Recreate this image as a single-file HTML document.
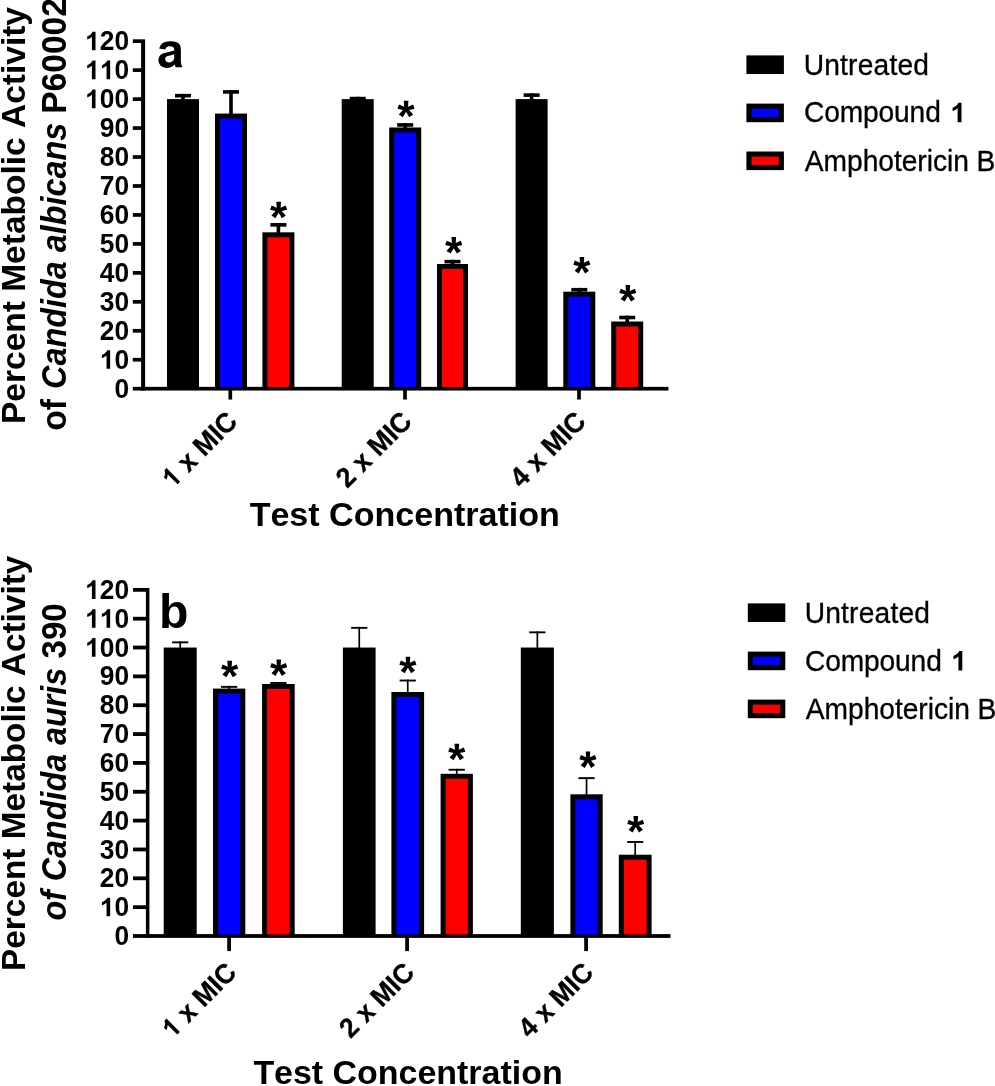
<!DOCTYPE html>
<html><head><meta charset="utf-8"><title>Figure</title>
<style>
html,body{margin:0;padding:0;background:#fff;}
body{width:995px;height:1086px;overflow:hidden;font-family:"Liberation Sans",sans-serif;}
svg{display:block;will-change:transform;}
text,path{fill:#000;}
text{font-kerning:none;}
</style></head><body>
<svg width="995" height="1086" viewBox="0 0 995 1086">
<rect width="995" height="1086" fill="#fff"/>
<rect x="141.10" y="39.33" width="4.00" height="351.22" fill="#000" />
<rect x="141.10" y="386.85" width="527.30" height="3.70" fill="#000" />
<rect x="132.80" y="386.85" width="8.80" height="3.70" fill="#000" />
<text x="114.45" y="0" transform="translate(0,397.80) scale(1,1.02)" font-family="Liberation Sans, sans-serif" font-weight="bold" font-size="26.34">0</text>
<rect x="132.80" y="357.89" width="8.80" height="3.70" fill="#000" />
<path transform="translate(99.80,368.84) scale(0.01286,-0.01265)" d="M806 0H525V1059Q371 915 162 846V1101Q272 1137 401 1237.5T578 1472H806Z"/>
<text x="114.45" y="0" transform="translate(0,368.84) scale(1,1.02)" font-family="Liberation Sans, sans-serif" font-weight="bold" font-size="26.34">0</text>
<rect x="132.80" y="328.93" width="8.80" height="3.70" fill="#000" />
<text x="99.80 114.45" y="0" transform="translate(0,339.88) scale(1,1.02)" font-family="Liberation Sans, sans-serif" font-weight="bold" font-size="26.34">20</text>
<rect x="132.80" y="299.97" width="8.80" height="3.70" fill="#000" />
<text x="99.80 114.45" y="0" transform="translate(0,310.92) scale(1,1.02)" font-family="Liberation Sans, sans-serif" font-weight="bold" font-size="26.34">30</text>
<rect x="132.80" y="271.01" width="8.80" height="3.70" fill="#000" />
<text x="99.80 114.45" y="0" transform="translate(0,281.96) scale(1,1.02)" font-family="Liberation Sans, sans-serif" font-weight="bold" font-size="26.34">40</text>
<rect x="132.80" y="242.05" width="8.80" height="3.70" fill="#000" />
<text x="99.80 114.45" y="0" transform="translate(0,253.00) scale(1,1.02)" font-family="Liberation Sans, sans-serif" font-weight="bold" font-size="26.34">50</text>
<rect x="132.80" y="213.09" width="8.80" height="3.70" fill="#000" />
<text x="99.80 114.45" y="0" transform="translate(0,224.04) scale(1,1.02)" font-family="Liberation Sans, sans-serif" font-weight="bold" font-size="26.34">60</text>
<rect x="132.80" y="184.13" width="8.80" height="3.70" fill="#000" />
<text x="99.80 114.45" y="0" transform="translate(0,195.08) scale(1,1.02)" font-family="Liberation Sans, sans-serif" font-weight="bold" font-size="26.34">70</text>
<rect x="132.80" y="155.17" width="8.80" height="3.70" fill="#000" />
<text x="99.80 114.45" y="0" transform="translate(0,166.12) scale(1,1.02)" font-family="Liberation Sans, sans-serif" font-weight="bold" font-size="26.34">80</text>
<rect x="132.80" y="126.21" width="8.80" height="3.70" fill="#000" />
<text x="99.80 114.45" y="0" transform="translate(0,137.16) scale(1,1.02)" font-family="Liberation Sans, sans-serif" font-weight="bold" font-size="26.34">90</text>
<rect x="132.80" y="97.25" width="8.80" height="3.70" fill="#000" />
<path transform="translate(85.15,108.20) scale(0.01286,-0.01265)" d="M806 0H525V1059Q371 915 162 846V1101Q272 1137 401 1237.5T578 1472H806Z"/>
<text x="99.80 114.45" y="0" transform="translate(0,108.20) scale(1,1.02)" font-family="Liberation Sans, sans-serif" font-weight="bold" font-size="26.34">00</text>
<rect x="132.80" y="68.29" width="8.80" height="3.70" fill="#000" />
<path transform="translate(85.15,79.24) scale(0.01286,-0.01265)" d="M806 0H525V1059Q371 915 162 846V1101Q272 1137 401 1237.5T578 1472H806Z"/>
<path transform="translate(99.80,79.24) scale(0.01286,-0.01265)" d="M806 0H525V1059Q371 915 162 846V1101Q272 1137 401 1237.5T578 1472H806Z"/>
<text x="114.45" y="0" transform="translate(0,79.24) scale(1,1.02)" font-family="Liberation Sans, sans-serif" font-weight="bold" font-size="26.34">0</text>
<rect x="132.80" y="39.33" width="8.80" height="3.70" fill="#000" />
<path transform="translate(85.15,50.28) scale(0.01286,-0.01265)" d="M806 0H525V1059Q371 915 162 846V1101Q272 1137 401 1237.5T578 1472H806Z"/>
<text x="99.80 114.45" y="0" transform="translate(0,50.28) scale(1,1.02)" font-family="Liberation Sans, sans-serif" font-weight="bold" font-size="26.34">20</text>
<rect x="181.20" y="93.89" width="3.60" height="6.21" fill="#000" />
<rect x="175.00" y="93.89" width="16.00" height="3.60" fill="#000" />
<rect x="167.00" y="99.10" width="32.00" height="289.60" fill="#000" />
<rect x="229.20" y="90.12" width="3.60" height="24.46" fill="#000" />
<rect x="223.00" y="90.12" width="16.00" height="3.60" fill="#000" />
<rect x="215.00" y="113.58" width="32.00" height="275.12" fill="#000" />
<rect x="220.00" y="118.58" width="22.00" height="268.57" fill="#0000ff" />
<rect x="276.60" y="223.05" width="3.60" height="10.27" fill="#000" />
<rect x="270.40" y="223.05" width="16.00" height="3.60" fill="#000" />
<rect x="262.40" y="232.32" width="32.00" height="156.38" fill="#000" />
<rect x="267.40" y="237.32" width="22.00" height="149.83" fill="#ff0000" />
<rect x="355.90" y="96.78" width="3.60" height="3.32" fill="#000" />
<rect x="349.70" y="96.78" width="16.00" height="3.60" fill="#000" />
<rect x="341.70" y="99.10" width="32.00" height="289.60" fill="#000" />
<rect x="403.40" y="123.14" width="3.60" height="5.34" fill="#000" />
<rect x="397.20" y="123.14" width="16.00" height="3.60" fill="#000" />
<rect x="389.20" y="127.48" width="32.00" height="261.22" fill="#000" />
<rect x="394.20" y="132.48" width="22.00" height="254.67" fill="#0000ff" />
<rect x="450.70" y="259.83" width="3.60" height="5.17" fill="#000" />
<rect x="444.50" y="259.83" width="16.00" height="3.60" fill="#000" />
<rect x="437.00" y="264.00" width="31.00" height="124.70" fill="#000" />
<rect x="442.00" y="269.00" width="21.00" height="118.15" fill="#ff0000" />
<rect x="529.80" y="93.31" width="3.60" height="6.79" fill="#000" />
<rect x="523.60" y="93.31" width="16.00" height="3.60" fill="#000" />
<rect x="515.60" y="99.10" width="32.00" height="289.60" fill="#000" />
<rect x="577.50" y="287.92" width="3.60" height="4.76" fill="#000" />
<rect x="571.30" y="287.92" width="16.00" height="3.60" fill="#000" />
<rect x="563.30" y="291.68" width="32.00" height="97.02" fill="#000" />
<rect x="568.30" y="296.68" width="22.00" height="90.47" fill="#0000ff" />
<rect x="625.40" y="315.72" width="3.60" height="6.79" fill="#000" />
<rect x="619.20" y="315.72" width="16.00" height="3.60" fill="#000" />
<rect x="611.20" y="321.51" width="32.00" height="67.19" fill="#000" />
<rect x="616.20" y="326.51" width="22.00" height="60.64" fill="#ff0000" />
<rect x="228.45" y="388.70" width="3.70" height="10.85" fill="#000" />
<g transform="translate(238.80,423.00) rotate(-45) scale(1,1.04)" stroke="#000" stroke-width="0.3"><path transform="translate(-93.48,0.00) scale(0.01304,-0.01254)" d="M806 0H525V1059Q371 915 162 846V1101Q272 1137 401 1237.5T578 1472H806Z"/><text x="0" y="0" text-anchor="end" font-family="Liberation Sans, sans-serif" font-weight="bold" font-size="26.7" xml:space="preserve"> x MIC</text></g>
<rect x="403.15" y="388.70" width="3.70" height="10.85" fill="#000" />
<g transform="translate(413.30,423.00) rotate(-45) scale(1,1.04)" stroke="#000" stroke-width="0.3"><text x="0" y="0" text-anchor="end" font-family="Liberation Sans, sans-serif" font-weight="bold" font-size="26.7" xml:space="preserve">2 x MIC</text></g>
<rect x="577.15" y="388.70" width="3.70" height="10.85" fill="#000" />
<g transform="translate(587.30,423.00) rotate(-45) scale(1,1.04)" stroke="#000" stroke-width="0.3"><text x="0" y="0" text-anchor="end" font-family="Liberation Sans, sans-serif" font-weight="bold" font-size="26.7" xml:space="preserve">4 x MIC</text></g>
<path transform="translate(269.99,232.28) scale(0.02163,-0.02163)" d="M492 1135 727 1239 795 1042 545 981 731 768 547 647 401 899 252 647 66 770 256 981 6 1042 74 1239 313 1135 295 1409H510Z"/>
<path transform="translate(397.39,131.18) scale(0.02163,-0.02163)" d="M492 1135 727 1239 795 1042 545 981 731 768 547 647 401 899 252 647 66 770 256 981 6 1042 74 1239 313 1135 295 1409H510Z"/>
<path transform="translate(445.09,267.58) scale(0.02163,-0.02163)" d="M492 1135 727 1239 795 1042 545 981 731 768 547 647 401 899 252 647 66 770 256 981 6 1042 74 1239 313 1135 295 1409H510Z"/>
<path transform="translate(573.19,287.38) scale(0.02163,-0.02163)" d="M492 1135 727 1239 795 1042 545 981 731 768 547 647 401 899 252 647 66 770 256 981 6 1042 74 1239 313 1135 295 1409H510Z"/>
<path transform="translate(619.14,315.58) scale(0.02163,-0.02163)" d="M492 1135 727 1239 795 1042 545 981 731 768 547 647 401 899 252 647 66 770 256 981 6 1042 74 1239 313 1135 295 1409H510Z"/>
<text x="404.75" y="526.40" text-anchor="middle" font-family="Liberation Sans, sans-serif" font-weight="bold" font-size="34.05">Test Concentration</text>
<text transform="translate(24.80,215.50) rotate(-90)" text-anchor="middle" font-family="Liberation Sans, sans-serif" font-weight="bold" font-size="33.51">Percent Metabolic Activity</text>
<g transform="translate(65.90,0) rotate(-90)" font-family="Liberation Sans, sans-serif">
<text x="-430.82" y="0" transform="scale(1,1.04)" font-weight="bold" font-size="33.8">of</text>
<text x="-388.98" y="0" transform="scale(1,1.1)" font-style="italic" font-weight="bold" font-size="32.38">Candida albicans</text>
<text x="-113.85" y="0" transform="scale(1,1.04)" font-weight="bold" font-size="33.6">P60002</text>
</g>
<path transform="translate(156.60,67.30) scale(0.02407,-0.02407)" d="M358 738L103 784Q146 938 251 1012Q356 1086 563 1086Q751 1086 843 1041.5Q935 997 972.5 928.5Q1010 860 1010 677L1007 349Q1007 209 1020.5 142.5Q1034 76 1071 0H793Q782 28 766 83Q759 108 756 116Q684 46 602 11Q520 -24 427 -24Q263 -24 168.5 65Q74 154 74 290Q74 380 117 450.5Q160 521 237.5 558.5Q315 596 461 624Q658 661 734 693V721Q734 802 694 836.5Q654 871 543 871Q468 871 426 841.5Q384 812 358 738ZM734 537Q680 519 563 494Q446 469 410 445Q355 406 355 346Q355 287 399 244Q443 201 511 201Q587 201 656 251Q707 289 723 344Q734 380 734 481Z"/>
<rect x="746.40" y="55.40" width="37.50" height="18.60" fill="#000" />
<text x="803.70" y="0" transform="translate(0,74.90) scale(1,1.035)" font-family="Liberation Sans, sans-serif" font-size="28.2" letter-spacing="0.18" stroke="#000" stroke-width="0.3">Untreated</text>
<rect x="746.40" y="103.60" width="37.50" height="18.60" fill="#000" />
<rect x="751.50" y="108.70" width="27.30" height="8.40" fill="#0000ff" />
<text x="804.10" y="0" transform="translate(0,122.30) scale(1,1.035)" font-family="Liberation Sans, sans-serif" font-size="28.2" letter-spacing="-0.17" stroke="#000" stroke-width="0.3">Compound</text>
<path transform="translate(950.40,122.30) scale(0.01377,-0.01327)" d="M806 0H525V1059Q371 915 162 846V1101Q272 1137 401 1237.5T578 1472H806Z"/>
<rect x="746.40" y="151.50" width="37.50" height="18.60" fill="#000" />
<rect x="751.50" y="156.60" width="27.30" height="8.40" fill="#ff0000" />
<text x="804.80" y="0" transform="translate(0,170.70) scale(1,1.035)" font-family="Liberation Sans, sans-serif" font-size="28.2" letter-spacing="-0.04" stroke="#000" stroke-width="0.3">Amphotericin B</text>
<rect x="145.90" y="587.95" width="3.50" height="349.95" fill="#000" />
<rect x="145.90" y="934.10" width="524.60" height="3.80" fill="#000" />
<rect x="133.00" y="934.10" width="13.40" height="3.80" fill="#000" />
<text x="114.45" y="0" transform="translate(0,945.10) scale(1,1.02)" font-family="Liberation Sans, sans-serif" font-weight="bold" font-size="26.34">0</text>
<rect x="133.00" y="905.25" width="13.40" height="3.80" fill="#000" />
<path transform="translate(99.80,916.25) scale(0.01286,-0.01265)" d="M806 0H525V1059Q371 915 162 846V1101Q272 1137 401 1237.5T578 1472H806Z"/>
<text x="114.45" y="0" transform="translate(0,916.25) scale(1,1.02)" font-family="Liberation Sans, sans-serif" font-weight="bold" font-size="26.34">0</text>
<rect x="133.00" y="876.41" width="13.40" height="3.80" fill="#000" />
<text x="99.80 114.45" y="0" transform="translate(0,887.41) scale(1,1.02)" font-family="Liberation Sans, sans-serif" font-weight="bold" font-size="26.34">20</text>
<rect x="133.00" y="847.56" width="13.40" height="3.80" fill="#000" />
<text x="99.80 114.45" y="0" transform="translate(0,858.56) scale(1,1.02)" font-family="Liberation Sans, sans-serif" font-weight="bold" font-size="26.34">30</text>
<rect x="133.00" y="818.72" width="13.40" height="3.80" fill="#000" />
<text x="99.80 114.45" y="0" transform="translate(0,829.72) scale(1,1.02)" font-family="Liberation Sans, sans-serif" font-weight="bold" font-size="26.34">40</text>
<rect x="133.00" y="789.87" width="13.40" height="3.80" fill="#000" />
<text x="99.80 114.45" y="0" transform="translate(0,800.87) scale(1,1.02)" font-family="Liberation Sans, sans-serif" font-weight="bold" font-size="26.34">50</text>
<rect x="133.00" y="761.02" width="13.40" height="3.80" fill="#000" />
<text x="99.80 114.45" y="0" transform="translate(0,772.02) scale(1,1.02)" font-family="Liberation Sans, sans-serif" font-weight="bold" font-size="26.34">60</text>
<rect x="133.00" y="732.18" width="13.40" height="3.80" fill="#000" />
<text x="99.80 114.45" y="0" transform="translate(0,743.18) scale(1,1.02)" font-family="Liberation Sans, sans-serif" font-weight="bold" font-size="26.34">70</text>
<rect x="133.00" y="703.33" width="13.40" height="3.80" fill="#000" />
<text x="99.80 114.45" y="0" transform="translate(0,714.33) scale(1,1.02)" font-family="Liberation Sans, sans-serif" font-weight="bold" font-size="26.34">80</text>
<rect x="133.00" y="674.49" width="13.40" height="3.80" fill="#000" />
<text x="99.80 114.45" y="0" transform="translate(0,685.49) scale(1,1.02)" font-family="Liberation Sans, sans-serif" font-weight="bold" font-size="26.34">90</text>
<rect x="133.00" y="645.64" width="13.40" height="3.80" fill="#000" />
<path transform="translate(85.15,656.64) scale(0.01286,-0.01265)" d="M806 0H525V1059Q371 915 162 846V1101Q272 1137 401 1237.5T578 1472H806Z"/>
<text x="99.80 114.45" y="0" transform="translate(0,656.64) scale(1,1.02)" font-family="Liberation Sans, sans-serif" font-weight="bold" font-size="26.34">00</text>
<rect x="133.00" y="616.79" width="13.40" height="3.80" fill="#000" />
<path transform="translate(85.15,627.79) scale(0.01286,-0.01265)" d="M806 0H525V1059Q371 915 162 846V1101Q272 1137 401 1237.5T578 1472H806Z"/>
<path transform="translate(99.80,627.79) scale(0.01286,-0.01265)" d="M806 0H525V1059Q371 915 162 846V1101Q272 1137 401 1237.5T578 1472H806Z"/>
<text x="114.45" y="0" transform="translate(0,627.79) scale(1,1.02)" font-family="Liberation Sans, sans-serif" font-weight="bold" font-size="26.34">0</text>
<rect x="133.00" y="587.95" width="13.40" height="3.80" fill="#000" />
<path transform="translate(85.15,598.95) scale(0.01286,-0.01265)" d="M806 0H525V1059Q371 915 162 846V1101Q272 1137 401 1237.5T578 1472H806Z"/>
<text x="99.80 114.45" y="0" transform="translate(0,598.95) scale(1,1.02)" font-family="Liberation Sans, sans-serif" font-weight="bold" font-size="26.34">20</text>
<rect x="179.35" y="641.40" width="1.70" height="7.14" fill="#000" />
<rect x="172.10" y="641.40" width="16.20" height="1.90" fill="#000" />
<rect x="163.70" y="647.54" width="33.00" height="288.46" fill="#000" />
<rect x="228.30" y="685.91" width="1.70" height="3.68" fill="#000" />
<rect x="221.05" y="685.91" width="16.20" height="1.90" fill="#000" />
<rect x="213.00" y="688.59" width="32.30" height="247.41" fill="#000" />
<rect x="218.00" y="693.59" width="22.30" height="240.81" fill="#0000ff" />
<rect x="277.55" y="682.01" width="1.70" height="2.99" fill="#000" />
<rect x="270.30" y="682.01" width="16.20" height="1.90" fill="#000" />
<rect x="262.10" y="684.00" width="32.60" height="252.00" fill="#000" />
<rect x="267.10" y="689.00" width="22.60" height="245.40" fill="#ff0000" />
<rect x="358.40" y="626.89" width="1.70" height="21.65" fill="#000" />
<rect x="351.15" y="626.89" width="16.20" height="1.90" fill="#000" />
<rect x="342.90" y="647.54" width="32.70" height="288.46" fill="#000" />
<rect x="406.90" y="679.59" width="1.70" height="13.40" fill="#000" />
<rect x="399.65" y="679.59" width="16.20" height="1.90" fill="#000" />
<rect x="391.40" y="691.99" width="32.70" height="244.01" fill="#000" />
<rect x="396.40" y="696.99" width="22.70" height="237.41" fill="#0000ff" />
<rect x="455.90" y="768.81" width="1.70" height="5.99" fill="#000" />
<rect x="448.65" y="768.81" width="16.20" height="1.90" fill="#000" />
<rect x="440.60" y="773.80" width="32.30" height="162.20" fill="#000" />
<rect x="445.60" y="778.80" width="22.30" height="155.60" fill="#ff0000" />
<rect x="536.50" y="631.39" width="1.70" height="17.15" fill="#000" />
<rect x="529.25" y="631.39" width="16.20" height="1.90" fill="#000" />
<rect x="520.80" y="647.54" width="33.10" height="288.46" fill="#000" />
<rect x="585.70" y="777.20" width="1.70" height="18.11" fill="#000" />
<rect x="578.45" y="777.20" width="16.20" height="1.90" fill="#000" />
<rect x="570.40" y="794.31" width="32.30" height="141.69" fill="#000" />
<rect x="575.40" y="799.31" width="22.30" height="135.09" fill="#0000ff" />
<rect x="634.35" y="841.01" width="1.70" height="14.70" fill="#000" />
<rect x="627.10" y="841.01" width="16.20" height="1.90" fill="#000" />
<rect x="618.80" y="854.71" width="32.80" height="81.29" fill="#000" />
<rect x="623.80" y="859.71" width="22.80" height="74.69" fill="#ff0000" />
<rect x="227.20" y="936.00" width="3.80" height="15.10" fill="#000" />
<g transform="translate(237.90,974.00) rotate(-45) scale(1,1.04)" stroke="#000" stroke-width="0.3"><path transform="translate(-92.43,0.00) scale(0.01289,-0.01239)" d="M806 0H525V1059Q371 915 162 846V1101Q272 1137 401 1237.5T578 1472H806Z"/><text x="0" y="0" text-anchor="end" font-family="Liberation Sans, sans-serif" font-weight="bold" font-size="26.4" xml:space="preserve"> x MIC</text></g>
<rect x="405.20" y="936.00" width="3.80" height="15.10" fill="#000" />
<g transform="translate(415.90,974.00) rotate(-45) scale(1,1.04)" stroke="#000" stroke-width="0.3"><text x="0" y="0" text-anchor="end" font-family="Liberation Sans, sans-serif" font-weight="bold" font-size="26.4" xml:space="preserve">2 x MIC</text></g>
<rect x="584.20" y="936.00" width="3.80" height="15.10" fill="#000" />
<g transform="translate(594.90,974.00) rotate(-45) scale(1,1.04)" stroke="#000" stroke-width="0.3"><text x="0" y="0" text-anchor="end" font-family="Liberation Sans, sans-serif" font-weight="bold" font-size="26.4" xml:space="preserve">4 x MIC</text></g>
<path transform="translate(220.99,691.28) scale(0.02163,-0.02163)" d="M492 1135 727 1239 795 1042 545 981 731 768 547 647 401 899 252 647 66 770 256 981 6 1042 74 1239 313 1135 295 1409H510Z"/>
<path transform="translate(270.04,689.88) scale(0.02163,-0.02163)" d="M492 1135 727 1239 795 1042 545 981 731 768 547 647 401 899 252 647 66 770 256 981 6 1042 74 1239 313 1135 295 1409H510Z"/>
<path transform="translate(399.24,687.18) scale(0.02163,-0.02163)" d="M492 1135 727 1239 795 1042 545 981 731 768 547 647 401 899 252 647 66 770 256 981 6 1042 74 1239 313 1135 295 1409H510Z"/>
<path transform="translate(448.14,774.18) scale(0.02163,-0.02163)" d="M492 1135 727 1239 795 1042 545 981 731 768 547 647 401 899 252 647 66 770 256 981 6 1042 74 1239 313 1135 295 1409H510Z"/>
<path transform="translate(579.24,781.88) scale(0.02163,-0.02163)" d="M492 1135 727 1239 795 1042 545 981 731 768 547 647 401 899 252 647 66 770 256 981 6 1042 74 1239 313 1135 295 1409H510Z"/>
<path transform="translate(627.09,846.48) scale(0.02163,-0.02163)" d="M492 1135 727 1239 795 1042 545 981 731 768 547 647 401 899 252 647 66 770 256 981 6 1042 74 1239 313 1135 295 1409H510Z"/>
<text x="408.00" y="1084.40" text-anchor="middle" font-family="Liberation Sans, sans-serif" font-weight="bold" font-size="33.95">Test Concentration</text>
<text transform="translate(24.80,763.30) rotate(-90)" text-anchor="middle" font-family="Liberation Sans, sans-serif" font-weight="bold" font-size="33.36">Percent Metabolic Activity</text>
<g transform="translate(65.90,0) rotate(-90)" font-family="Liberation Sans, sans-serif">
<text x="-920.59" y="0" transform="scale(1,1.1)" font-style="italic" font-weight="bold" font-size="32.27">of Candida auris</text>
<text x="-658.46" y="0" transform="scale(1,1.04)" font-weight="bold" font-size="33.0">390</text>
</g>
<text x="0" y="0" transform="translate(159.00,628.07) scale(1.0,1)" font-family="Liberation Sans, sans-serif" font-weight="bold" font-size="48.2">b</text>
<rect x="747.80" y="603.40" width="37.50" height="18.60" fill="#000" />
<text x="804.70" y="0" transform="translate(0,623.10) scale(1,1.035)" font-family="Liberation Sans, sans-serif" font-size="28.2" letter-spacing="0.18" stroke="#000" stroke-width="0.3">Untreated</text>
<rect x="747.80" y="651.60" width="37.50" height="18.60" fill="#000" />
<rect x="752.90" y="656.70" width="27.30" height="8.40" fill="#0000ff" />
<text x="805.10" y="0" transform="translate(0,670.50) scale(1,1.035)" font-family="Liberation Sans, sans-serif" font-size="28.2" letter-spacing="-0.17" stroke="#000" stroke-width="0.3">Compound</text>
<path transform="translate(951.20,670.50) scale(0.01377,-0.01327)" d="M806 0H525V1059Q371 915 162 846V1101Q272 1137 401 1237.5T578 1472H806Z"/>
<rect x="747.80" y="699.60" width="37.50" height="18.60" fill="#000" />
<rect x="752.90" y="704.70" width="27.30" height="8.40" fill="#ff0000" />
<text x="805.80" y="0" transform="translate(0,718.90) scale(1,1.035)" font-family="Liberation Sans, sans-serif" font-size="28.2" letter-spacing="-0.04" stroke="#000" stroke-width="0.3">Amphotericin B</text>
</svg>
</body></html>
